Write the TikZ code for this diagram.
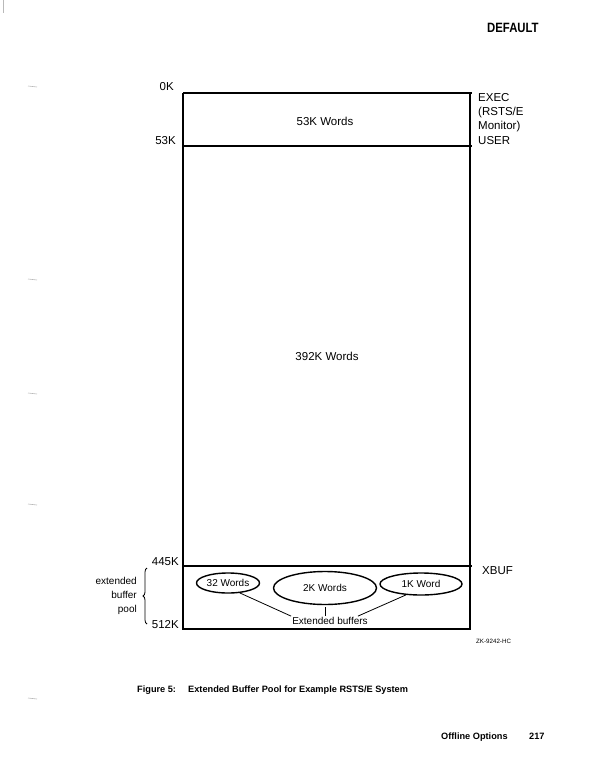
\documentclass[tikz,border=0pt]{standalone}
\usepackage{fontspec}
\setmainfont{Liberation Sans}
\newfontfamily\headfont[FakeStretch=0.84]{Liberation Sans Bold}
\newfontfamily\capfont{Liberation Sans Bold}
\usetikzlibrary{shapes.geometric, decorations.pathreplacing, calc}

\tikzset{
  memline/.style={line width=1.2pt},
  addr/.style={anchor=base east, inner sep=0pt, font=\fontsize{11.5}{14}\selectfont},
  region/.style={anchor=base west, inner sep=0pt, font=\fontsize{11.5}{14}\selectfont},
  words/.style={inner sep=0pt, font=\fontsize{11.5}{14}\selectfont},
  buf/.style={draw, ellipse, line width=1.4pt, inner sep=0pt, font=\fontsize{10}{12}\selectfont},
  bufline/.style={line width=0.8pt},
  scanmark/.style={gray!55, line width=0.6pt}
}

\begin{document}
\begin{tikzpicture}[x=1pt, y=-1pt]

\useasboundingbox (0,0) rectangle (604,783);

\coordinate (TL) at (183,93);
\coordinate (TR) at (470,93);
\coordinate (BL) at (183,629);
\coordinate (BR) at (470,629);
\coordinate (UL) at (183,146);
\coordinate (XL) at (183,566);

% memory map
\draw [memline] (TL) -- (BL) -- (BR) -- (TR);
\draw [memline] (TL) -- ++(289,0);
\draw [memline] (UL) -- ++(289,0);
\draw [memline] (XL) -- ++(289,0);

\node [addr] (k0) at (174,91) {0K};
\node [addr] (k53) at (176,145) {53K};
\node [addr] (k445) at (179,565) {445K};
\node [addr] (k512) at (179,628) {512K};

\node [region] (exec) at (478,102) {EXEC};
\node [region] (rsts) at (478,116) {(RSTS/E};
\node [region] (mon) at (478,130) {Monitor)};
\node [region] (user) at (478,145) {USER};
\node [region, anchor=north west] (xbuf) at (482,566) {XBUF};

\node [words] (sys) at (325,121) {53K Words};
\node [words] (usr) at (327,356) {392K Words};

% buffers
\node [buf, minimum width=63, minimum height=20] (w32) at (228,583) {32 Words};
\node [buf, minimum width=103, minimum height=33] (w2k) at (325,588) {2K Words};
\node [buf, minimum width=82, minimum height=22] (w1k) at (421,584) {1K Word};

\node [inner sep=1pt, font=\fontsize{10}{12}\selectfont] (ext) at (330,621) {Extended buffers};

\draw [bufline] (w32.-40) -- (ext.north west);
\draw [bufline, shorten <=2pt] (w2k.south) -- (w2k.south |- ext.north);
\draw [bufline] (w1k.216) -- ([xshift=-11pt]ext.north east);

\coordinate (poolBot) at (147,624);
\coordinate (poolTop) at (147,568);
\draw [line width=0.8pt, decorate, decoration={brace, amplitude=4pt}] (poolBot) -- (poolTop);
\node [anchor=east, align=right, inner sep=0pt, font=\fontsize{10}{14}\selectfont] (pool) at (137,596) {extended\\buffer\\pool};

\node [anchor=base west, inner sep=0pt, font=\fontsize{6.2}{7}\selectfont] (zk) at (476,643) {ZK-9242-HC};

% page furniture
\node [anchor=base west, inner sep=0pt, font=\headfont\fontsize{13.5}{15}\selectfont] (head) at (487,33) {DEFAULT};
\node [anchor=base west, inner sep=0pt, font=\capfont\fontsize{9.2}{11}\selectfont] (fig) at (137,692) {Figure 5:};
\node [anchor=base west, inner sep=0pt, font=\capfont\fontsize{9.2}{11}\selectfont] (figtxt) at (188,692) {Extended Buffer Pool for Example RSTS/E System};
\node [anchor=base west, inner sep=0pt, font=\capfont\fontsize{9.2}{11}\selectfont] (foot) at (441,739) {Offline Options};
\node [anchor=base west, inner sep=0pt, font=\capfont\fontsize{9.2}{11}\selectfont] (page) at (529,739) {217};

% scan marks
\draw [scanmark] (3.5,0) -- (3.5,13);
\foreach \y in {86, 279, 393, 504, 698}
  \draw [scanmark] (28,\y) -- (37,\y+1);

\end{tikzpicture}
\end{document}
